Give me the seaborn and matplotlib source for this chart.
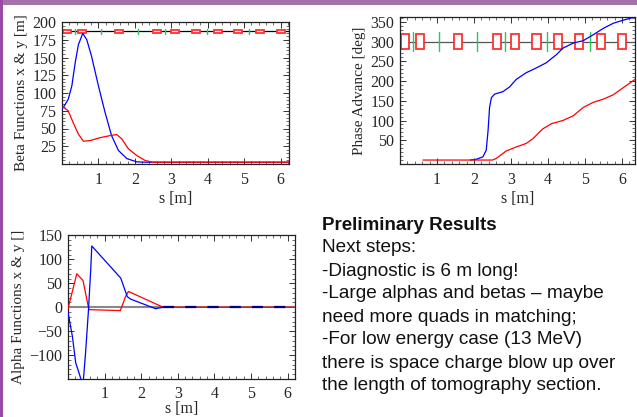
import matplotlib
matplotlib.use('Agg')

import numpy as np
import pandas as pd
import seaborn as sns
import matplotlib.pyplot as plt
from matplotlib.patches import Rectangle

# --- lattice (quads = red boxes, green = monitors) ---
quad_s = [0.13, 0.54, 1.57, 2.61, 3.11, 3.69, 4.27, 4.84, 5.44, 6.0]
mon_s = [0.35, 1.06, 2.09, 2.83, 3.98, 5.14]

# --- beta functions [m] ---
beta_x_s = [0.0, 0.04, 0.17, 0.27, 0.36, 0.45, 0.57, 0.68, 0.81, 1.0, 1.18, 1.36, 1.55, 1.78, 2.05,
            2.3, 3.0, 4.0, 5.0, 6.23]
beta_x = [78, 80, 91, 110, 142, 168, 184, 175, 152, 110, 73, 40, 19, 7.6, 3,
          2.5, 2.5, 2.5, 2.5, 2.5]
beta_y_s = [0.0, 0.04, 0.17, 0.3, 0.45, 0.59, 0.77, 1.04, 1.32, 1.5, 1.64, 1.82, 2.05, 2.28, 2.5,
            3.0, 4.0, 5.0, 6.23]
beta_y = [80, 80, 75, 59, 42, 32, 33, 37, 40, 41.5, 35.5, 21.5, 12, 5, 2.5,
          2.5, 2.5, 2.5, 2.5]

# --- phase advance [deg] ---
phx_s = [1.9, 2.06, 2.24, 2.33, 2.38, 2.42, 2.47, 2.56, 2.78, 2.96, 3.14, 3.41, 3.68, 3.95, 4.23,
         4.4, 4.68, 4.95, 5.22, 5.49, 5.76, 6.03, 6.35]
phx = [0, 2, 8, 25, 75, 133, 158, 167, 173, 185, 204, 221, 233, 246, 267,
       283, 296, 302, 317, 333, 346, 354, 362]
phy_s = [0.62, 2.5, 2.6, 2.87, 3.14, 3.41, 3.59, 3.86, 4.09, 4.4, 4.68, 4.95, 5.22, 5.49, 5.76, 6.03, 6.35]
phy = [0, 0, 4, 23, 33, 42, 54, 79, 92, 100, 112, 133, 146, 154, 165, 183, 204]

# --- alpha functions ---
alx_s = [0.0, 0.12, 0.21, 0.3, 0.36, 0.42, 0.48, 0.56, 0.62, 0.65, 1.44, 1.62, 1.71, 2.12, 2.39, 2.6,
         3.0, 4.0, 5.0, 6.2]
alx = [-10, -61, -116, -137, -152, -152, -95, -5, 78, 128, 61, 22, 17, 5, -3, 0, 0, 0, 0, 0]
aly_s = [0.0, 0.24, 0.41, 0.57, 1.43, 1.57, 1.65, 2.57, 3.0, 4.0, 5.0, 6.2]
aly = [-3, 70, 56, -5, -7, 22, 33, 1, 0, 0, 0, 0]

text_lines = [
    "Next steps:",
    "-Diagnostic is 6 m long!",
    "-Large alphas and betas \u2013 maybe",
    "need more quads in matching;",
    "-For low energy case (13 MeV)",
    "there is space charge blow up over",
    "the length of tomography section.",
]

sns.set_style("ticks")
plt.rcParams['font.family'] = ['Liberation Serif', 'DejaVu Serif']
plt.rcParams['axes.unicode_minus'] = True

fig = plt.figure(figsize=(6.37, 4.17), dpi=100)
fig.patch.set_facecolor('white')
# slide frame
fig.patches.append(Rectangle((0, 1 - 5 / 417), 1, 5 / 417, transform=fig.transFigure,
                             facecolor='#a472ab', edgecolor='none', zorder=0))
fig.patches.append(Rectangle((0, 0), 3 / 637, 1, transform=fig.transFigure,
                             facecolor='#9a4aa2', edgecolor='none', zorder=0))

ax1 = fig.add_axes([62 / 637, 1 - 164 / 417, 227 / 637, 142 / 417])
ax2 = fig.add_axes([400 / 637, 1 - 164 / 417, 235 / 637, 147 / 417])
ax3 = fig.add_axes([68 / 637, 1 - 379 / 417, 227 / 637, 144 / 417])


def style_axes(ax, xlim, ylim, yticks, ylabel, minor_y, xlabelpad=2, xpad=6):
    ax.set_xlim(*xlim)
    ax.set_ylim(*ylim)
    ax.set_xticks([1, 2, 3, 4, 5, 6])
    ax.set_yticks(yticks)
    ax.set_xticks(np.arange(0, xlim[1], 0.2), minor=True)
    ax.set_yticks(np.arange(ylim[0] - ylim[0] % minor_y, ylim[1], minor_y), minor=True)
    ax.tick_params(which='both', direction='in', top=True, right=True, labelsize=11.5,
                   color='#333333')
    ax.tick_params(which='major', length=4, width=0.7)
    ax.tick_params(which='minor', length=2, width=0.5)
    ax.tick_params(axis='x', pad=xpad)
    ax.tick_params(axis='y', pad=4)
    for sp in ax.spines.values():
        sp.set_visible(True)
        sp.set_linewidth(0.9)
        sp.set_color('#222222')
    ax.set_xlabel("s [m]", fontsize=11.5, labelpad=xlabelpad)
    ax.set_ylabel(ylabel, fontsize=11, labelpad=3)


def draw_lattice(ax, y0, line_color, qh, mh):
    ax.axhline(y0, color=line_color, lw=0.9, zorder=1)
    for s in quad_s:
        ax.add_patch(Rectangle((s - 0.11, y0 - qh), 0.22, 2 * qh, facecolor='white',
                               edgecolor='#ff3030', lw=1.3, zorder=2))
    for s in mon_s:
        ax.plot([s, s], [y0 - mh, y0 + mh], color='#22cc55', lw=1.0, zorder=2)


# beta
sns.lineplot(x=beta_x_s, y=beta_x, ax=ax1, color='#0000ff', lw=0.9, zorder=3)
sns.lineplot(x=beta_y_s, y=beta_y, ax=ax1, color='#ff0000', lw=0.9, zorder=3)
draw_lattice(ax1, 187, 'black', 2.2, 3.5)
style_axes(ax1, (0, 6.23), (2, 200), [25, 50, 75, 100, 125, 150, 175, 200],
           "Beta Functions x & y [m]", 5)

# phase advance
sns.lineplot(x=phx_s, y=phx, ax=ax2, color='#0000ff', lw=0.9, zorder=3)
sns.lineplot(x=phy_s, y=phy, ax=ax2, color='#ff0000', lw=0.9, zorder=3)
draw_lattice(ax2, 300, '#555555', 18, 25)
style_axes(ax2, (0, 6.35), (-2, 362), [50, 100, 150, 200, 250, 300, 350],
           "Phase Advance [deg]", 10)

# alpha
ax3.axhline(0, color='#888888', lw=1.5, zorder=1)
sns.lineplot(x=aly_s, y=aly, ax=ax3, color='#ff0000', lw=0.9, zorder=3)
alx_s_arr = np.array(alx_s)
alx_arr = np.array(alx)
head = alx_s_arr <= 2.6
tail = alx_s_arr >= 2.6
sns.lineplot(x=alx_s_arr[head], y=alx_arr[head], ax=ax3, color='#0000ff', lw=0.9, zorder=3)
ax3.plot(alx_s_arr[tail], alx_arr[tail], color='#000080', lw=1.6, dashes=(5, 5), zorder=4)
style_axes(ax3, (0.02, 6.2), (-149, 151), [-100, -50, 0, 50, 100, 150],
           "Alpha Functions x & y []", 10, xlabelpad=-1, xpad=5)

# notes
fig.text(322 / 637, 1 - 225 / 417, "Preliminary Results", fontsize=13.5, fontweight='bold',
         family=['Liberation Sans', 'DejaVu Sans'], va='center', ha='left', color='#111111')
for i, line in enumerate(text_lines):
    fig.text(322 / 637, 1 - (248 + 23.0 * i) / 417, line, fontsize=13.7,
             family=['Liberation Sans', 'DejaVu Sans'], va='center', ha='left', color='#111111')

fig.savefig("out.png", dpi=100)
